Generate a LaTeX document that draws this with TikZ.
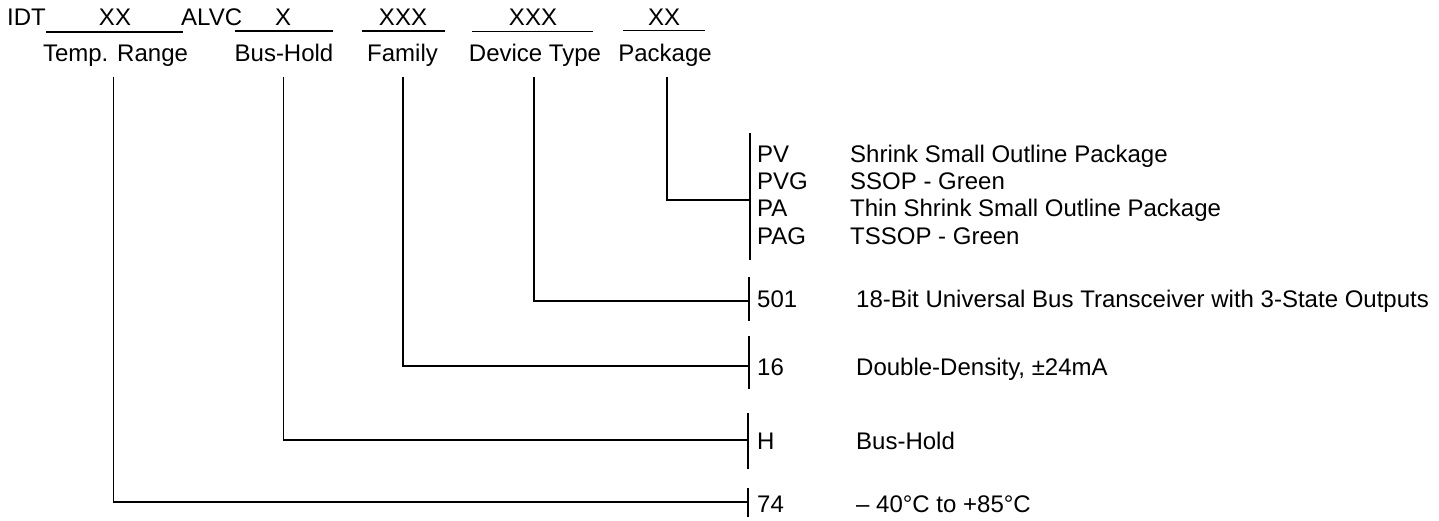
\documentclass[tikz,border=0pt]{standalone}
\usepackage{fontspec}
\setmainfont{Liberation Sans}
\begin{document}
\begin{tikzpicture}[x=1pt,y=-1pt,
  txt/.style={inner sep=0pt,font=\fontsize{24}{28}\selectfont},
  lt/.style={txt,anchor=base west},
  ct/.style={txt,anchor=base},
  thin/.style={line width=1.1pt},
  thick/.style={line width=1.7pt}]
\useasboundingbox (0,0) rectangle (1439,521);
% top row
\node[lt] (idt) at (7,26) {IDT};
\node[lt] (alvc) at (181,26) {ALVC};
\node[ct] (xx1) at (115,26) {XX};
\node[ct] (x1) at (283,26) {X};
\node[ct] (xxx1) at (403,26) {XXX};
\node[ct] (xxx2) at (533,26) {XXX};
\node[ct] (xx2) at (664,26) {XX};
\draw[thin] (46,32) -- (183,32);
\draw[thick] (235,31) -- (333,31);
\draw[thick] (362,31) -- (445,31);
\draw[thick] (472,31.5) -- (593,31.5);
\draw[thin] (623,30.5) -- (705,30.5);
% field names
\node[ct] (tr) at (115.5,62) {Temp. Range};
\node[ct] (bh) at (284,62) {Bus-Hold};
\node[ct] (fa) at (402.5,62) {Family};
\node[ct] (dt) at (535,62) {Device Type};
\node[ct] (pk) at (665,62) {Package};
% connector tops
\coordinate (trt) at (113.3,77);
\coordinate (bht) at (283.3,77);
\coordinate (fat) at (403,77);
\coordinate (dtt) at (534,77);
\coordinate (pkt) at (667,77);
% bars
\coordinate (pkb) at (750,200);
\coordinate (dtb) at (749,301);
\coordinate (fab) at (749,365.7);
\coordinate (bhb) at (748,440);
\coordinate (trb) at (748,502);
\draw[thin] (750,133) -- (750,260);
\draw[thin] (749,277) -- (749,321);
\draw[thick] (749,336) -- (749,389);
\draw[thin] (748,413) -- (748,469);
\draw[thin] (748,488) -- (748,517);
% connectors
\draw[thick] (pkt) |- (pkb);
\draw[thin] (dtt) |- (dtb);
\draw[thick] (fat) |- (fab);
\draw[thin] (bht) |- (bhb);
\draw[thin] (trt) |- (trb);
% right texts
\node[lt] (pv) at (757,163) {PV};
\node[lt] (pvg) at (757,190) {PVG};
\node[lt] (pa) at (757,217) {PA};
\node[lt] (pag) at (757,245) {PAG};
\node[lt] (pvd) at (850,163) {Shrink Small Outline Package};
\node[lt] (pvgd) at (850,190) {SSOP - Green};
\node[lt] (pad) at (850,217) {Thin Shrink Small Outline Package};
\node[lt] (pagd) at (850,245) {TSSOP - Green};
\node[lt] (c501) at (757,307) {501};
\node[lt] (d501) at (856,307) {18-Bit Universal Bus Transceiver with 3-State Outputs};
\node[lt] (c16) at (757,375) {16};
\node[lt] (d16) at (856,375) {Double-Density, ±24mA};
\node[lt] (ch) at (757,449) {H};
\node[lt] (dh) at (856,449) {Bus-Hold};
\node[lt] (c74) at (757,512) {74};
\node[lt] (d74) at (856,512) {– 40°C to +85°C};
\end{tikzpicture}
\end{document}
